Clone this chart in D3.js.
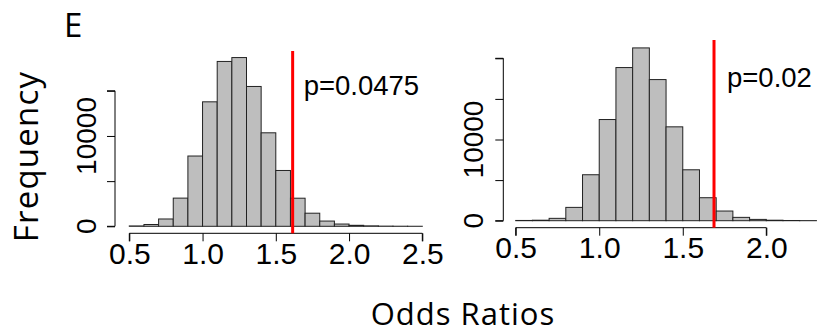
<!DOCTYPE html>
<html>
<head>
<meta charset="utf-8">
<script src="https://cdn.jsdelivr.net/npm/d3@7"></script>
<style>
  html, body { margin: 0; padding: 0; background: #fff; }
  svg { display: block; }
</style>
</head>
<body>
<div id="chart"></div>
<script>
// histogram bins (width 0.1) and counts
const binWidth = 0.1;
const leftStart = 0.5;
const leftCounts = [40, 200, 810, 3120, 7780, 13780, 18250, 18680, 15480, 10350, 6180, 3110, 1450, 580, 250, 110, 50, 20, 10, 5];
const rightStart = 0.5;
const rightCounts = [30, 60, 290, 1640, 5660, 12460, 18860, 21280, 17380, 11560, 6270, 2830, 1190, 410, 160, 60, 25, 10];

const leftXTicks = [0.5, 1.0, 1.5, 2.0, 2.5];
const rightXTicks = [0.5, 1.0, 1.5, 2.0];
const leftYTicks = [0, 5000, 10000, 15000];
const rightYTicks = [0, 5000, 10000, 15000, 20000];
const yLabelled = [0, 10000];

const leftObserved = 1.615;
const rightObserved = 1.687;
const leftPText = 'p=0.0475';
const rightPText = 'p=0.02';

const width = 819, height = 334;
const numFont = '"Liberation Sans", Arial, sans-serif';
const titleFont = '"Open Sans", "Noto Sans", sans-serif';

const svg = d3.select('#chart')
  .append('svg')
  .attr('width', width)
  .attr('height', height);

function drawPanel(cfg) {
  const x = d3.scaleLinear().domain(cfg.xDomain).range(cfg.xRange);
  const y = d3.scaleLinear().domain(cfg.yDomain).range(cfg.yRange);

  const bins = cfg.counts.map((c, i) => ({
    x0: cfg.start + i * binWidth,
    x1: cfg.start + (i + 1) * binWidth,
    count: c
  }));

  const g = svg.append('g');

  // bars
  g.selectAll('rect.bar')
    .data(bins)
    .join('rect')
      .attr('class', 'bar')
      .attr('x', d => x(d.x0))
      .attr('y', d => y(d.count))
      .attr('width', d => x(d.x1) - x(d.x0))
      .attr('height', d => y(0) - y(d.count))
      .attr('fill', '#bebebe')
      .attr('stroke', '#222')
      .attr('stroke-width', 1);

  // x axis, R style: detached below the plot area
  const xAxis = g.append('g')
    .attr('transform', `translate(0,${cfg.xAxisY})`)
    .call(d3.axisBottom(x).tickValues(cfg.xTicks).tickSize(8).tickPadding(1)
      .tickFormat(d3.format('.1f')));
  xAxis.select('.domain').attr('stroke', '#000').attr('d', `M${x(cfg.xTicks[0])},8V0H${x(cfg.xTicks[cfg.xTicks.length - 1])}V8`);
  xAxis.selectAll('.tick line').attr('stroke', '#000');
  xAxis.selectAll('text')
    .style('font-family', numFont)
    .style('font-size', '30px')
    .attr('fill', '#000')
    .attr('dy', '0.71em');

  // y axis
  const yAxis = g.append('g')
    .attr('transform', `translate(${cfg.yAxisX},0)`)
    .call(d3.axisLeft(y).tickValues(cfg.yTicks).tickSize(8).tickFormat(''));
  yAxis.select('.domain').attr('stroke', '#000')
    .attr('d', `M-8,${y(cfg.yTicks[0])}H0V${y(cfg.yTicks[cfg.yTicks.length - 1])}H-8`);
  yAxis.selectAll('.tick line').attr('stroke', '#000');

  // rotated y labels, only the ones R had room for
  g.selectAll('text.ylab')
    .data(yLabelled)
    .join('text')
      .attr('class', 'ylab')
      .attr('transform', d => `translate(${cfg.yLabelX},${y(d)}) rotate(-90)`)
      .attr('text-anchor', 'middle')
      .style('font-family', numFont)
      .style('font-size', '28px')
      .attr('fill', '#000')
      .text(d => d);

  // observed value
  g.append('line')
    .attr('x1', x(cfg.observed)).attr('x2', x(cfg.observed))
    .attr('y1', cfg.redTop).attr('y2', cfg.xAxisY)
    .attr('stroke', '#ff0000')
    .attr('stroke-width', 3);

  g.append('text')
    .attr('x', x(cfg.observed) + cfg.pDx)
    .attr('y', cfg.pY)
    .style('font-family', numFont)
    .style('font-size', '27.5px')
    .attr('fill', '#000')
    .text(cfg.pText);
}

drawPanel({
  start: leftStart, counts: leftCounts,
  xDomain: [0.5, 2.5], xRange: [129.3, 422.3],
  yDomain: [0, 15000], yRange: [226.3, 90.8],
  xTicks: leftXTicks, yTicks: leftYTicks,
  xAxisY: 233.3, yAxisX: 115, yLabelX: 96,
  observed: leftObserved, redTop: 51,
  pText: leftPText, pDx: 11, pY: 95
});

drawPanel({
  start: rightStart, counts: rightCounts,
  xDomain: [0.5, 2.0], xRange: [515.7, 766.3],
  yDomain: [0, 20000], yRange: [220.7, 58.3],
  xTicks: rightXTicks, yTicks: rightYTicks,
  xAxisY: 227.7, yAxisX: 503.3, yLabelX: 483,
  observed: rightObserved, redTop: 40,
  pText: rightPText, pDx: 13, pY: 87.3
});

// panel letter and shared axis titles
svg.append('text')
  .attr('x', 64).attr('y', 36.7)
  .style('font-family', titleFont)
  .style('font-size', '33px')
  .attr('fill', '#000')
  .text('E');

svg.append('text')
  .attr('transform', 'translate(38.3,156.5) rotate(-90)')
  .attr('text-anchor', 'middle')
  .style('font-family', titleFont)
  .style('font-size', '33px')
  .style('letter-spacing', '1.2px')
  .attr('fill', '#000')
  .text('Frequency');

svg.append('text')
  .attr('x', 463).attr('y', 324.8)
  .attr('text-anchor', 'middle')
  .style('font-family', titleFont)
  .style('font-size', '31px')
  .style('letter-spacing', '1px')
  .attr('fill', '#000')
  .text('Odds Ratios');
</script>
</body>
</html>
